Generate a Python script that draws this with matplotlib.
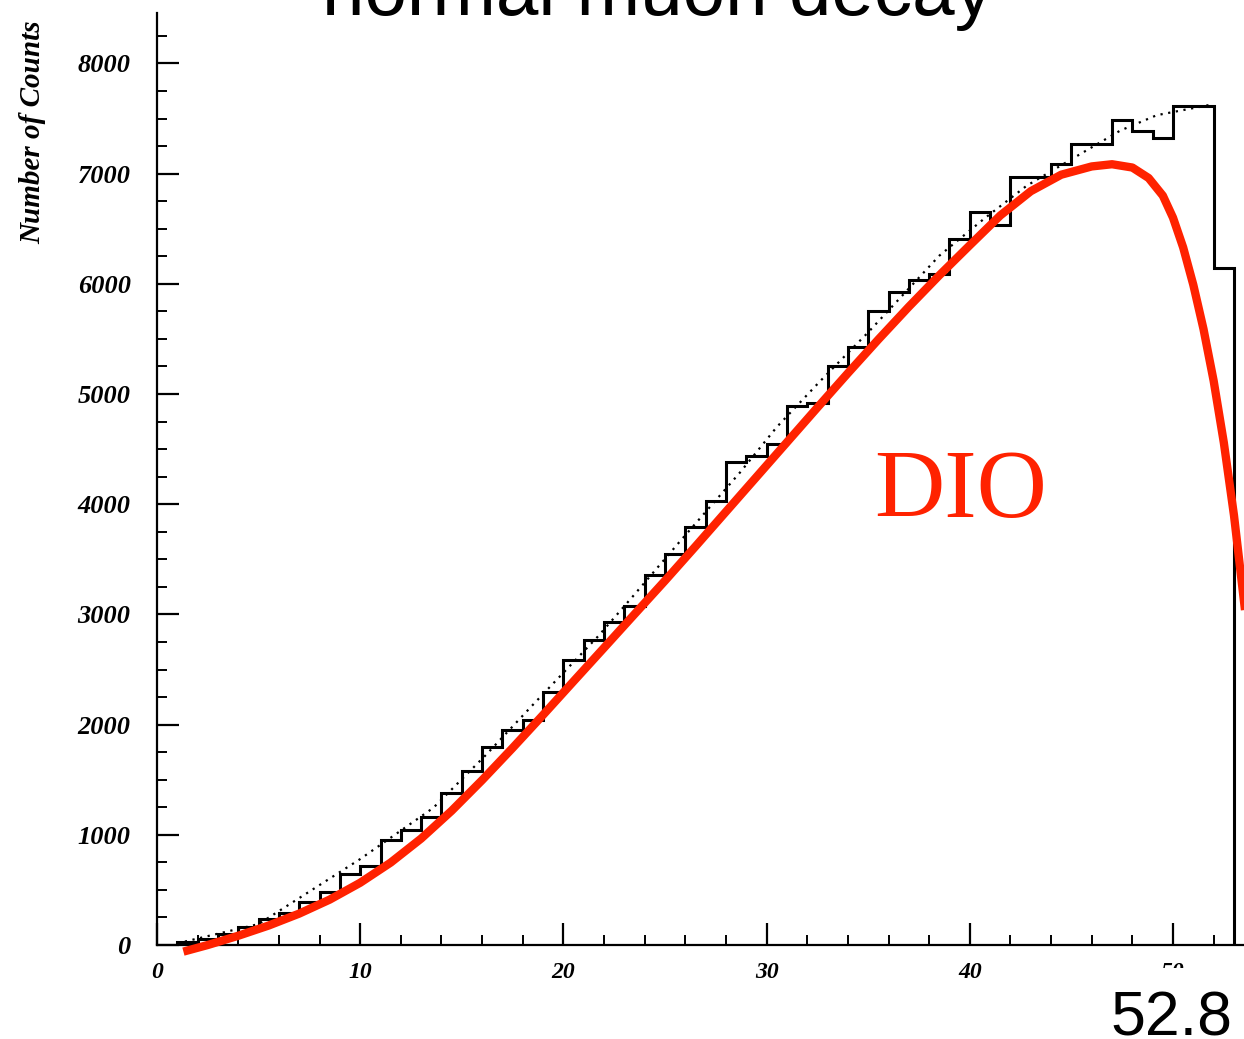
import numpy as np
import matplotlib
matplotlib.use("Agg")
import matplotlib.pyplot as plt
from matplotlib.patches import Rectangle

# ---------------- data ----------------
bin_edges = list(range(1, 54))  # 52 bins of 1 MeV, from 1 to 53
counts = [30, 55, 100, 165, 235, 290, 390, 480, 640, 720,
          955, 1040, 1165, 1380, 1575, 1800, 1955, 2045, 2300, 2590,
          2770, 2935, 3080, 3360, 3545, 3790, 4030, 4380, 4440, 4545,
          4890, 4920, 5255, 5425, 5750, 5930, 6030, 6090, 6410, 6650,
          6530, 6970, 6970, 7090, 7270, 7270, 7490, 7390, 7320, 7610,
          7610, 6140]

fit_x = [1.0, 5.0, 10.0, 13.6, 16.2, 18.5, 21.7, 23.4, 25.7, 28.7, 30.5,
         32.6, 35.0, 38.5, 40.7, 42.8, 45.0, 47.4, 49.2, 52.0]
fit_y = [15, 190, 780, 1245, 1727, 2180, 2800, 3160, 3655, 4290, 4700,
         5110, 5560, 6255, 6590, 6890, 7130, 7390, 7530, 7630]

dio_x = [1.3, 2.5, 4.0, 5.5, 7.0, 8.5, 10.0, 11.5, 13.0, 14.5, 16.0, 17.5,
         19.0, 20.5, 22.0, 23.5, 25.0, 26.5, 28.0, 29.5, 31.0, 32.5, 34.0,
         35.5, 37.0, 38.5, 40.0, 41.5, 43.0, 44.5, 46.0, 47.0, 48.0, 48.8,
         49.5, 50.0, 50.5, 51.0, 51.5, 52.0, 52.5, 53.0, 53.6]
dio_y = [-60, 0, 84, 177, 285, 412, 565, 748, 966, 1218, 1496, 1788,
         2088, 2393, 2697, 3002, 3306, 3617, 3932, 4247, 4562, 4877, 5189,
         5495, 5792, 6077, 6350, 6620, 6840, 6990, 7065, 7085, 7055, 6960,
         6800, 6600, 6330, 5990, 5590, 5120, 4560, 3900, 2950]

xticks_major = [0, 10, 20, 30, 40, 50]
xtick_labels = ["0", "10", "20", "30", "40", "50"]
yticks_major = [0, 1000, 2000, 3000, 4000, 5000, 6000, 7000, 8000]
ytick_labels = ["0", "1000", "2000", "3000", "4000", "5000", "6000", "7000", "8000"]

title = "normal muon decay"
ylabel = "Number of Counts"
curve_label = "DIO"
endpoint_label = "52.8"

# ---------------- figure ----------------
W, H = 1244, 1039
fig = plt.figure(figsize=(W / 100, H / 100), dpi=100)
fig.patch.set_facecolor("white")

ax = fig.add_axes([157 / W, 1 - 945 / H, 1 - 157 / W, (945 - 13) / H])
ax.set_xlim(0, (W - 157) / 20.32)
ax.set_ylim(0, (945 - 13) / 0.1102)

for s in ["top", "right"]:
    ax.spines[s].set_visible(False)
for s in ["left", "bottom"]:
    ax.spines[s].set_linewidth(1.6)
    ax.spines[s].set_color("black")

# histogram
ax.stairs(counts, bin_edges, baseline=0, color="black", lw=2.2, zorder=3)
# dotted fit
ax.plot(fit_x, fit_y, ls=(0, (1, 2.5)), color="black", lw=1.6, zorder=3)
# DIO curve
ax.plot(dio_x, dio_y, color="#ff2200", lw=6, solid_joinstyle="round",
        solid_capstyle="butt", zorder=4, clip_on=False)

ax.text(35.3, 3880, curve_label, color="#ff2200", fontsize=70,
        family="Liberation Serif", ha="left", va="baseline", zorder=5)

# ticks
xtick_font = dict(family="Liberation Serif", weight="bold", style="italic", size=17)
ytick_font = dict(family="Liberation Serif", weight="bold", style="italic", size=19)
ax.set_xticks(xticks_major)
ax.set_xticklabels(xtick_labels, **xtick_font)
ax.set_xticks(np.arange(0, 54, 2), minor=True)
ax.set_yticks(yticks_major)
ax.set_yticklabels(ytick_labels, **ytick_font)
ax.set_yticks(np.arange(0, 8500, 250), minor=True)
ax.tick_params(axis="both", which="major", direction="in", length=16, width=1.6)
ax.tick_params(axis="both", which="minor", direction="in", length=7, width=1.4)
ax.tick_params(axis="x", which="major", pad=12)
ax.tick_params(axis="y", which="major", pad=19)

# y label (ROOT style, top aligned)
fig.text(33 / W, 1 - 20 / H, ylabel, rotation=90, ha="center", va="top",
         family="Liberation Serif", weight="bold", style="italic", fontsize=21)

# title (cropped at top)
fig.text(0.5285, 1 - 15 / H, title, ha="center", va="baseline",
         family="Liberation Sans", fontsize=55)

# white patch hiding most of the "50" label, then endpoint label
fig.add_artist(Rectangle((1100 / W, 0), (W - 1100) / W, 1 - 968 / H,
                         transform=fig.transFigure, facecolor="white",
                         edgecolor="none", zorder=10))
fig.text(1232 / W, 1 - 1036 / H, endpoint_label, ha="right", va="baseline",
         family="Liberation Sans", fontsize=45, zorder=11)

fig.savefig("out.png", dpi=100)
